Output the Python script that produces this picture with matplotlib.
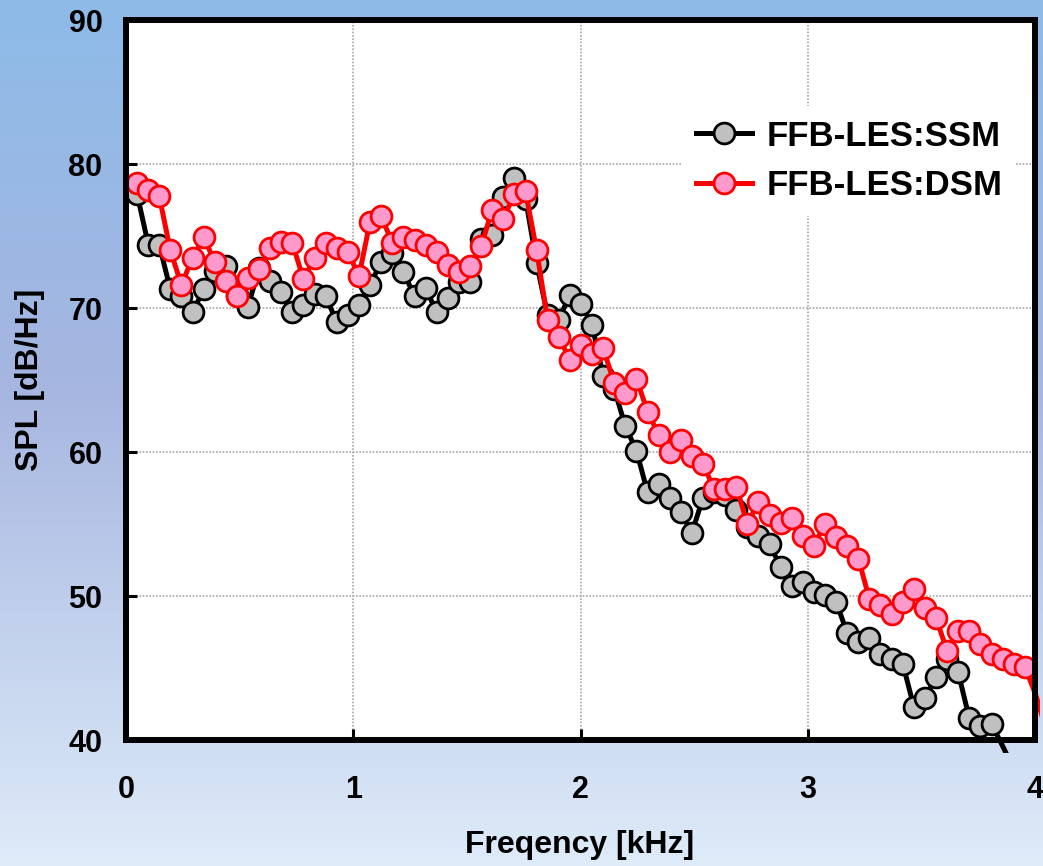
import numpy as np
import matplotlib
matplotlib.use("Agg")
import matplotlib.pyplot as plt
from matplotlib.lines import Line2D
from matplotlib.transforms import Bbox, TransformedBbox
from matplotlib.colors import LinearSegmentedColormap

plt.rcParams['font.family'] = ['Liberation Sans', 'DejaVu Sans']
plt.rcParams['font.weight'] = 'bold'

# frequency bins [kHz]
freq = [0.049, 0.098, 0.146, 0.195, 0.244, 0.293, 0.342, 0.391, 0.439, 0.488,
        0.537, 0.586, 0.635, 0.684, 0.732, 0.781, 0.830, 0.879, 0.928, 0.977,
        1.025, 1.074, 1.123, 1.172, 1.221, 1.270, 1.318, 1.367, 1.416, 1.465,
        1.514, 1.563, 1.611, 1.660, 1.709, 1.758, 1.807, 1.855, 1.904, 1.953,
        2.002, 2.051, 2.100, 2.148, 2.197, 2.246, 2.295, 2.344, 2.393, 2.441,
        2.490, 2.539, 2.588, 2.637, 2.686, 2.734, 2.783, 2.832, 2.881, 2.930,
        2.979, 3.027, 3.076, 3.125, 3.174, 3.223, 3.271, 3.320, 3.369, 3.418,
        3.467, 3.516, 3.564, 3.613, 3.662, 3.711, 3.760, 3.809, 3.857, 3.906,
        3.955, 4.004, 4.053]

ssm = [77.9, 74.4, 74.4, 71.3, 70.8, 69.7, 71.3, 72.6, 72.9, 70.9,
       70.1, 72.8, 71.9, 71.1, 69.7, 70.2, 71.0, 70.8, 69.0, 69.5,
       70.2, 71.6, 73.2, 73.8, 72.5, 70.8, 71.4, 69.7, 70.7, 71.8,
       71.8, 74.8, 75.1, 77.7, 79.0, 77.6, 73.1, 69.5, 69.2, 70.9,
       70.3, 68.8, 65.3, 64.4, 61.8, 60.1, 57.2, 57.8, 56.8, 55.8,
       54.4, 56.8, 57.2, 57.0, 56.0, 54.8, 54.2, 53.6, 52.0, 50.7,
       51.0, 50.3, 50.1, 49.6, 47.4, 46.8, 47.1, 46.0, 45.6, 45.3,
       42.3, 42.9, 44.4, 45.6, 44.7, 41.5, 41.0, 41.1, 39.6, 38.0]

dsm = [78.7, 78.2, 77.8, 74.0, 71.6, 73.5, 74.9, 73.2, 71.9, 70.8,
       72.1, 72.7, 74.2, 74.6, 74.5, 72.0, 73.5, 74.5, 74.2, 73.9,
       72.2, 76.0, 76.4, 74.5, 74.9, 74.7, 74.4, 73.9, 73.0, 72.5,
       72.9, 74.3, 76.8, 76.2, 77.9, 78.1, 74.0, 69.2, 68.0, 66.4,
       67.4, 66.8, 67.2, 64.8, 64.1, 65.1, 62.8, 61.2, 60.0, 60.8,
       59.7, 59.2, 57.4, 57.4, 57.6, 55.0, 56.5, 55.6, 55.1, 55.4,
       54.2, 53.5, 55.0, 54.1, 53.5, 52.6, 49.8, 49.4, 48.75, 49.6,
       50.5, 49.2, 48.5, 46.2, 47.6, 47.6, 46.7, 46.0, 45.6, 45.3,
       45.1, 43.1, 40.5]

series_names = ["FFB-LES:SSM", "FFB-LES:DSM"]
xticks = [0, 1, 2, 3, 4]
yticks = [40, 50, 60, 70, 80, 90]

W, H = 1043, 866
fig = plt.figure(figsize=(W / 100, H / 100), dpi=100)

# gradient background
bg = fig.add_axes([0, 0, 1, 1], zorder=-10)
cmap = LinearSegmentedColormap.from_list(
    "bg", [(0.0, "#8DBBE8"), (0.45, "#A6B6E0"), (1.0, "#DEEBF9")])
grad = np.linspace(0, 1, 256).reshape(-1, 1)
bg.imshow(grad, aspect='auto', cmap=cmap, extent=[0, 1, 0, 1], origin='upper')
bg.set_axis_off()

ax = fig.add_axes([126 / W, 1 - 740 / H, 909 / W, 720 / H])
ax.set_facecolor("white")
ax.set_xlim(0, 4)
ax.set_ylim(40, 90)
ax.set_xticks(xticks)
ax.set_yticks(yticks)
ax.set_xticklabels([str(t) for t in xticks])
ax.set_yticklabels([str(t) for t in yticks])
ax.set_axisbelow(True)
ax.grid(True, color="#A8A8A8", linestyle=(0, (1, 1)), linewidth=1.2)

for sp in ax.spines.values():
    sp.set_linewidth(4.3)
    sp.set_color("black")

ax.tick_params(axis='both', direction='in', length=8, width=2.2,
               labelsize=22, colors='black')
ax.tick_params(axis='x', pad=25)
ax.tick_params(axis='y', pad=17)

clipbox = TransformedBbox(Bbox([[-0.01, -0.018], [1.006, 1.01]]), ax.transAxes)

styles = [
    dict(color="black", mfc="#C0C0C0", mec="black"),
    dict(color="#FF0000", mfc="#FF99CC", mec="#FF0000"),
]
ms, mew, lw = 15, 2.0, 3.6

for vals, st in zip([ssm, dsm], styles):
    f = np.array(freq[:len(vals)])
    v = np.array(vals)
    ln, = ax.plot(f, v, color=st["color"], lw=lw, solid_joinstyle='round')
    ln.set_clip_path(None)
    ln.set_clip_box(clipbox)
    inside = (f <= 4.0) & (v >= 40.0)
    ax.plot(f[inside], v[inside], linestyle='none', marker='o', ms=ms,
            mfc=st["mfc"], mec=st["mec"], mew=mew)

handles = [Line2D([], [], color=st["color"], lw=lw, marker='o', ms=ms,
                  mfc=st["mfc"], mec=st["mec"], mew=mew) for st in styles]
leg = ax.legend(handles, series_names, loc='upper left',
                bbox_to_anchor=(0.593, 0.905), frameon=True, fancybox=False,
                framealpha=1, facecolor='white', edgecolor='none',
                prop=dict(size=25, weight='bold'), handlelength=1.6,
                handletextpad=0.42, labelspacing=0.48, borderpad=0.4)
leg.set_zorder(5)

fig.text(580 / W, 1 - 845 / H, "Freqency [kHz]", ha='center', va='center',
         fontsize=23, fontweight='bold')
fig.text(30 / W, 1 - 380 / H, "SPL [dB/Hz]", ha='center', va='center',
         rotation=90, fontsize=23, fontweight='bold')

fig.savefig("out.png", dpi=100)
